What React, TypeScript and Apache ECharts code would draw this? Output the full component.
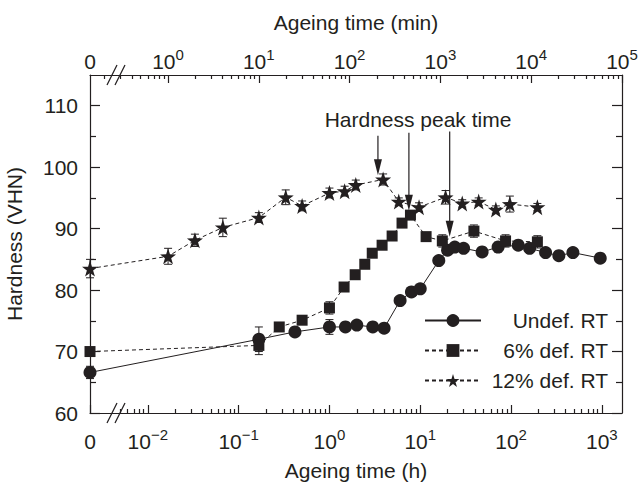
import React, { useEffect, useRef } from 'react';
import * as echarts from 'echarts';

// ---- data (hours, hardness VHN, error) ----
const undefHours = [0, 0.167, 0.417, 1, 1.5, 2, 3, 4, 6, 8, 10, 16, 20, 24, 30, 48, 72, 120, 160, 240, 336, 480, 960];
const undefVHN = [66.6, 72.0, 73.2, 74.0, 74.0, 74.3, 74.0, 73.8, 78.3, 79.7, 80.2, 84.8, 86.5, 87.0, 86.8, 86.2, 87.0, 87.3, 86.8, 86.1, 85.6, 86.1, 85.2];
const undefErr = [1.0, 2.0, 0.5, 1.2, 0.5, 0.5, 0.5, 0.5, 0.5, 0.5, 0.5, 0.6, 0.6, 0.5, 0.5, 0.5, 0.8, 0.6, 0.5, 0.5, 0.5, 0.6, 0.6];

const def6Hours = [0, 0.167, 0.28, 0.5, 1, 1.45, 1.92, 2.45, 2.96, 3.8, 4.9, 6.3, 7.8, 11.6, 17.5, 39, 87, 195];
const def6VHN = [70.0, 71.0, 74.0, 75.1, 77.1, 80.5, 82.5, 84.2, 86.0, 87.3, 88.8, 90.9, 92.2, 88.7, 88.0, 89.6, 88.0, 87.85];
const def6Err = [0.5, 1.5, 0.5, 0.5, 1.0, 0.5, 0.5, 0.5, 0.5, 0.5, 0.5, 0.5, 0.5, 0.5, 1.0, 1.0, 1.0, 1.0];

const def12Hours = [0, 0.0167, 0.033, 0.067, 0.167, 0.33, 0.5, 1, 1.47, 1.95, 3.9, 5.8, 9.7, 19, 29, 44, 68, 97, 195];
const def12VHN = [83.5, 85.5, 88.1, 90.2, 91.8, 95.1, 93.7, 95.8, 96.1, 97.1, 98.0, 94.4, 93.5, 95.1, 94.1, 94.4, 93.1, 94.0, 93.5];
const def12Err = [1.5, 1.3, 1.0, 1.5, 0.8, 1.2, 0.8, 0.8, 0.8, 0.8, 0.9, 0.6, 0.7, 1.1, 0.6, 0.6, 0.6, 1.3, 0.6];

const seriesNames = ['Undef. RT', '6% def. RT', '12% def. RT'];

// peak-time arrows: hours, top value, tip value
const peakHours = [3.42, 7.5, 21.1];
const peakArrowTop = [105.1, 105.6, 105.8];
const peakArrowTip = [98.7, 92.9, 88.7];
const peakLabel = 'Hardness peak time';

// ticks
const bottomMajorExp = [-2, -1, 0, 1, 2, 3];
const topMajorExp = [0, 1, 2, 3, 4, 5];
const yMajor = [60, 70, 80, 90, 100, 110];
const yMinor = [65, 75, 85, 95, 105];

// ---- axis geometry ----
const LOG_MAX_H = 5 - Math.log10(60); // right edge = 10^5 min
const X_MIN = -2.637; // position of t = 0 (after axis break)
const MIN_SHIFT = Math.log10(60);
const toX = (h: number) => (h === 0 ? X_MIN : Math.log10(h));

const bottomMinor: number[] = [];
for (let n = -3; n <= 3; n++) for (let k = 2; k <= 9; k++) {
  const v = Math.log10(k * Math.pow(10, n));
  if (v > -2.32 && v < LOG_MAX_H) bottomMinor.push(v);
}
const topMinor: number[] = [];
for (let n = -1; n <= 4; n++) for (let k = 2; k <= 9; k++) {
  const v = Math.log10(k * Math.pow(10, n));
  if (v > X_MIN + MIN_SHIFT && v < 5) topMinor.push(v);
}

const C = '#231f20';
const FONT = "'Liberation Sans', Arial, Helvetica, sans-serif";

const starPath = (() => {
  const pts: string[] = [];
  for (let i = 0; i < 10; i++) {
    const a = ((-90 + 36 * i) * Math.PI) / 180;
    const r = i % 2 === 0 ? 50 : 19.5;
    pts.push(`${(50 + r * Math.cos(a)).toFixed(2)},${(50 + r * Math.sin(a)).toFixed(2)}`);
  }
  return 'path://M' + pts.join(' L') + ' Z';
})();

const supRich = {
  b: { fontSize: 21, lineHeight: 24, verticalAlign: 'bottom', fontFamily: FONT, color: C },
  s: { fontSize: 15, height: 12, lineHeight: 12, verticalAlign: 'top', fontFamily: FONT, color: C },
};
const expText = (e: number) => (e < 0 ? '\u2212' + Math.abs(e) : String(e));

const errSeries = (name: string, hours: number[], vals: number[], errs: number[]) => ({
  name,
  type: 'custom',
  xAxisIndex: 0,
  yAxisIndex: 0,
  silent: true,
  z: 1,
  data: hours.map((h, i) => [toX(h), vals[i], errs[i]]),
  renderItem: (params: any, api: any) => {
    const x = api.value(0);
    const y = api.value(1);
    const e = api.value(2);
    const t = api.coord([x, y + e]);
    const b = api.coord([x, y - e]);
    const cap = 4;
    const st = { stroke: C, lineWidth: 1 };
    return {
      type: 'group',
      children: [
        { type: 'line', shape: { x1: t[0], y1: t[1], x2: b[0], y2: b[1] }, style: st },
        { type: 'line', shape: { x1: t[0] - cap, y1: t[1], x2: t[0] + cap, y2: t[1] }, style: st },
        { type: 'line', shape: { x1: b[0] - cap, y1: b[1], x2: b[0] + cap, y2: b[1] }, style: st },
      ],
    };
  },
});

export default function App() {
  const ref = useRef<HTMLDivElement>(null);
  useEffect(() => {
    if (!ref.current) return;
    const chart = echarts.init(ref.current, null, { renderer: 'svg' });
    const axisLineStyle = { color: C, width: 1.2 };
    const lineOn = { show: true, onZero: false, lineStyle: axisLineStyle };
    const lineOff = { show: false, onZero: false };
    const option: any = {
      animation: false,
      backgroundColor: '#ffffff',
      grid: { left: 90, right: 20, top: 75, bottom: 72, containLabel: false, outerBoundsMode: 'none' },
      xAxis: [
        {
          type: 'value', position: 'bottom', min: X_MIN, max: LOG_MAX_H,
          name: 'Ageing time (h)', nameLocation: 'middle', nameGap: 47,
          nameTextStyle: { fontSize: 21, fontFamily: FONT, color: C },
          axisLine: lineOn,
          axisTick: { show: true, inside: true, length: 8, customValues: [X_MIN, ...bottomMajorExp], lineStyle: axisLineStyle },
          axisLabel: {
            show: true, margin: 15, customValues: [X_MIN, ...bottomMajorExp],
            formatter: (v: number) => (v < -2.5 ? '{b|0}' : `{b|10}{s|${expText(Math.round(v))}}`),
            rich: supRich,
          },
          splitLine: { show: false },
        },
        {
          type: 'value', position: 'bottom', min: X_MIN, max: LOG_MAX_H,
          axisLine: lineOff,
          axisTick: { show: true, inside: true, length: 4, customValues: bottomMinor, lineStyle: axisLineStyle },
          axisLabel: { show: false },
          splitLine: { show: false },
        },
        {
          type: 'value', position: 'top', min: X_MIN + MIN_SHIFT, max: 5,
          name: 'Ageing time (min)', nameLocation: 'middle', nameGap: 42,
          nameTextStyle: { fontSize: 21, fontFamily: FONT, color: C },
          axisLine: lineOn,
          axisTick: { show: true, inside: true, length: 8, customValues: topMajorExp, lineStyle: axisLineStyle },
          axisLabel: {
            show: true, margin: 3, customValues: [X_MIN + MIN_SHIFT, ...topMajorExp],
            formatter: (v: number) => (v < -0.5 ? '{b|0}' : `{b|10}{s|${expText(Math.round(v))}}`),
            rich: supRich,
          },
          splitLine: { show: false },
        },
        {
          type: 'value', position: 'top', min: X_MIN + MIN_SHIFT, max: 5,
          axisLine: lineOff,
          axisTick: { show: true, inside: true, length: 4, customValues: topMinor, lineStyle: axisLineStyle },
          axisLabel: { show: false },
          splitLine: { show: false },
        },
      ],
      yAxis: [
        {
          type: 'value', position: 'left', min: 60, max: 115,
          name: 'Hardness (VHN)', nameLocation: 'middle', nameGap: 65, nameRotate: 90,
          nameTextStyle: { fontSize: 21, fontFamily: FONT, color: C },
          axisLine: lineOn,
          axisTick: { show: true, inside: true, length: 10, customValues: yMajor, lineStyle: axisLineStyle },
          axisLabel: { show: true, margin: 12, customValues: yMajor, fontSize: 21, fontFamily: FONT, color: C },
          splitLine: { show: false },
        },
        {
          type: 'value', position: 'left', min: 60, max: 115,
          axisLine: lineOff,
          axisTick: { show: true, inside: true, length: 6, customValues: yMinor, lineStyle: axisLineStyle },
          axisLabel: { show: false },
          splitLine: { show: false },
        },
        {
          type: 'value', position: 'right', min: 60, max: 115,
          axisLine: lineOn,
          axisTick: { show: true, inside: true, length: 10, customValues: yMajor, lineStyle: axisLineStyle },
          axisLabel: { show: false },
          splitLine: { show: false },
        },
        {
          type: 'value', position: 'right', min: 60, max: 115,
          axisLine: lineOff,
          axisTick: { show: true, inside: true, length: 6, customValues: yMinor, lineStyle: axisLineStyle },
          axisLabel: { show: false },
          splitLine: { show: false },
        },
      ],
      legend: {
        data: seriesNames,
        orient: 'vertical',
        left: 424,
        top: 310,
        padding: 0,
        itemWidth: 56,
        itemHeight: 16,
        itemGap: 9,
        selectedMode: false,
        formatter: (name: string) => `{r|${name}}`,
        textStyle: {
          fontSize: 21, fontFamily: FONT, color: C,
          rich: { r: { width: 122, align: 'right', fontSize: 21, lineHeight: 21, fontFamily: FONT, color: C } },
        },
      },
      series: [
        errSeries('err-undef', undefHours, undefVHN, undefErr),
        errSeries('err-6', def6Hours, def6VHN, def6Err),
        errSeries('err-12', def12Hours, def12VHN, def12Err),
        {
          name: seriesNames[0], type: 'line', xAxisIndex: 0, yAxisIndex: 0, clip: false, z: 3,
          data: undefHours.map((h, i) => [toX(h), undefVHN[i]]),
          symbol: 'circle', symbolSize: 13,
          lineStyle: { color: C, width: 1, type: 'solid' },
          itemStyle: { color: C },
        },
        {
          name: seriesNames[1], type: 'line', xAxisIndex: 0, yAxisIndex: 0, clip: false, z: 3,
          data: def6Hours.map((h, i) => [toX(h), def6VHN[i]]),
          symbol: 'rect', symbolSize: 11,
          lineStyle: { color: C, width: 1, type: [4, 3] },
          itemStyle: { color: C },
        },
        {
          name: seriesNames[2], type: 'line', xAxisIndex: 0, yAxisIndex: 0, clip: false, z: 3,
          data: def12Hours.map((h, i) => [toX(h), def12VHN[i]]),
          symbol: starPath, symbolSize: 16,
          lineStyle: { color: C, width: 1, type: [4, 3] },
          itemStyle: { color: C },
        },
        {
          name: 'peak-arrows', type: 'custom', xAxisIndex: 0, yAxisIndex: 0, silent: true, z: 4,
          data: peakHours.map((h, i) => [toX(h), peakArrowTop[i], peakArrowTip[i]]),
          renderItem: (params: any, api: any) => {
            const x = api.value(0);
            const p1 = api.coord([x, api.value(1)]);
            const p2 = api.coord([x, api.value(2)]);
            const hl = 16;
            const hw = 4;
            return {
              type: 'group',
              children: [
                { type: 'line', shape: { x1: p1[0], y1: p1[1], x2: p2[0], y2: p2[1] - hl + 2 }, style: { stroke: C, lineWidth: 1.2 } },
                { type: 'polygon', shape: { points: [[p2[0] - hw, p2[1] - hl], [p2[0] + hw, p2[1] - hl], [p2[0], p2[1]]] }, style: { fill: C } },
              ],
            };
          },
        },
      ],
      graphic: [
        { type: 'text', x: 418, y: 119, style: { text: peakLabel, font: `21px ${FONT}`, fill: C, textAlign: 'center', textVerticalAlign: 'middle' } },
        // axis breaks
        { type: 'rect', shape: { x: 111, y: 410, width: 9, height: 6 }, style: { fill: '#ffffff' } },
        { type: 'line', shape: { x1: 107, y1: 423, x2: 117, y2: 403 }, style: { stroke: C, lineWidth: 1.2 } },
        { type: 'line', shape: { x1: 115, y1: 423, x2: 125, y2: 403 }, style: { stroke: C, lineWidth: 1.2 } },
        { type: 'rect', shape: { x: 111, y: 72, width: 9, height: 6 }, style: { fill: '#ffffff' } },
        { type: 'line', shape: { x1: 107, y1: 85, x2: 117, y2: 65 }, style: { stroke: C, lineWidth: 1.2 } },
        { type: 'line', shape: { x1: 115, y1: 85, x2: 125, y2: 65 }, style: { stroke: C, lineWidth: 1.2 } },
      ],
    };
    chart.setOption(option);
    return () => chart.dispose();
  }, []);
  return <div ref={ref} style={{ position: 'fixed', left: 0, top: 0, width: 642, height: 485, background: '#fff' }} />;
}
